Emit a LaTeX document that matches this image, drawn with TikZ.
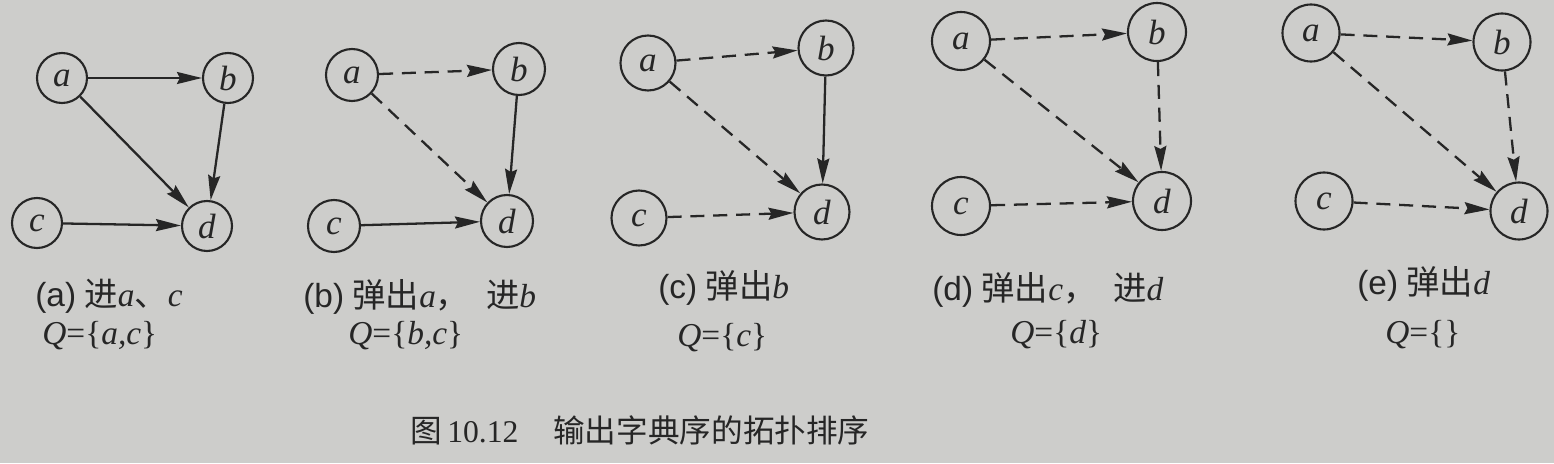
\documentclass[tikz,border=0pt]{standalone}
\usepackage{fontspec}
\setmainfont{Liberation Serif}
\newfontfamily\cjk{Noto Sans CJK SC}
\newfontfamily\capsf{Liberation Sans}
\usetikzlibrary{arrows.meta}
\definecolor{paper}{RGB}{205,205,203}
\definecolor{ink}{RGB}{38,38,38}

\begin{document}
\begin{tikzpicture}[
  vtx/.style={circle, draw=ink, line width=1.2pt, minimum size=#1, inner sep=0pt, text=ink, font=\fontsize{20}{20}\selectfont\itshape},
  vtx/.default=1cm,
  arrow/.style={-{Stealth[length=5mm, width=2.4mm, inset=0.6mm]}, line width=1.3pt, draw=ink},
  dasharrow/.style={arrow, dash pattern=on 8pt off 5pt},
  captext/.style={anchor=west, inner sep=0pt, text=ink, font=\fontsize{19}{22}\selectfont}
]
  % page
  \fill[paper] (0,0) rectangle (31.08,9.26);
  \useasboundingbox (0,0) rectangle (31.08,9.26);

  % (a) push a, c
  \node[vtx=1.0cm] (a1) at (1.24, 7.70) {a};
  \node[vtx=1.0cm] (b1) at (4.56, 7.70) {b};
  \node[vtx=1.0cm] (c1) at (0.74, 4.80) {c};
  \node[vtx=1.0cm] (d1) at (4.14, 4.74) {d};
  \draw[arrow] (a1) -- (b1);
  \draw[arrow] (a1) -- (d1);
  \draw[arrow] (b1) -- (d1);
  \draw[arrow] (c1) -- (d1);
  \node[captext] (capa) at (0.70, 3.34) {{\capsf (a)} {\cjk 进}\textit{a}{\cjk 、}\textit{c}};
  \node[captext] (qa) at (0.84, 2.54) {\textit{Q}=\{\textit{a,c}\}};

  % (b) pop a, push b
  \node[vtx=1.04cm] (a2) at (7.04, 7.76) {a};
  \node[vtx=1.04cm] (b2) at (10.38, 7.88) {b};
  \node[vtx=1.04cm] (c2) at (6.68, 4.74) {c};
  \node[vtx=1.04cm] (d2) at (10.14, 4.84) {d};
  \draw[dasharrow] (a2) -- (b2);
  \draw[dasharrow] (a2) -- (d2);
  \draw[arrow] (b2) -- (d2);
  \draw[arrow] (c2) -- (d2);
  \node[captext] (capb) at (6.06, 3.32) {{\capsf (b)} {\cjk 弹出}\textit{a}{\cjk ，}\hspace{0.5em}{\cjk 进}\textit{b}};
  \node[captext] (qb) at (6.96, 2.54) {\textit{Q}=\{\textit{b,c}\}};

  % (c) pop b
  \node[vtx=1.1cm] (a3) at (12.96, 8.00) {a};
  \node[vtx=1.1cm] (b3) at (16.52, 8.30) {b};
  \node[vtx=1.1cm] (c3) at (12.78, 4.90) {c};
  \node[vtx=1.1cm] (d3) at (16.44, 5.02) {d};
  \draw[dasharrow] (a3) -- (b3);
  \draw[dasharrow] (a3) -- (d3);
  \draw[arrow] (b3) -- (d3);
  \draw[dasharrow] (c3) -- (d3);
  \node[captext] (capc) at (13.16, 3.50) {{\capsf (c)} {\cjk 弹出}\textit{b}};
  \node[captext] (qc) at (13.54, 2.50) {\textit{Q}=\{\textit{c}\}};

  % (d) pop c, push d
  \node[vtx=1.16cm] (a4) at (19.22, 8.44) {a};
  \node[vtx=1.16cm] (b4) at (23.14, 8.62) {b};
  \node[vtx=1.16cm] (c4) at (19.22, 5.14) {c};
  \node[vtx=1.16cm] (d4) at (23.24, 5.24) {d};
  \draw[dasharrow] (a4) -- (b4);
  \draw[dasharrow] (a4) -- (d4);
  \draw[dasharrow] (b4) -- (d4);
  \draw[dasharrow] (c4) -- (d4);
  \node[captext] (capd) at (18.64, 3.46) {{\capsf (d)} {\cjk 弹出}\textit{c}{\cjk ，}\hspace{0.5em}{\cjk 进}\textit{d}};
  \node[captext] (qd) at (20.20, 2.56) {\textit{Q}=\{\textit{d}\}};

  % (e) pop d
  \node[vtx=1.14cm] (a5) at (26.22, 8.60) {a};
  \node[vtx=1.14cm] (b5) at (30.04, 8.42) {b};
  \node[vtx=1.14cm] (c5) at (26.48, 5.24) {c};
  \node[vtx=1.14cm] (d5) at (30.38, 5.04) {d};
  \draw[dasharrow] (a5) -- (b5);
  \draw[dasharrow] (a5) -- (d5);
  \draw[dasharrow] (b5) -- (d5);
  \draw[dasharrow] (c5) -- (d5);
  \node[captext] (cape) at (27.14, 3.58) {{\capsf (e)} {\cjk 弹出}\textit{d}};
  \node[captext] (qe) at (27.70, 2.56) {\textit{Q}=\{\}};

  % figure caption
  \node[anchor=west, inner sep=0pt, text=ink, font=\fontsize{18}{20}\selectfont] (figcap) at (8.20, 0.66)
    {{\cjk 图}\,10.12\hspace{1.1em}{\cjk 输出字典序的拓扑排序}};
\end{tikzpicture}
\end{document}
